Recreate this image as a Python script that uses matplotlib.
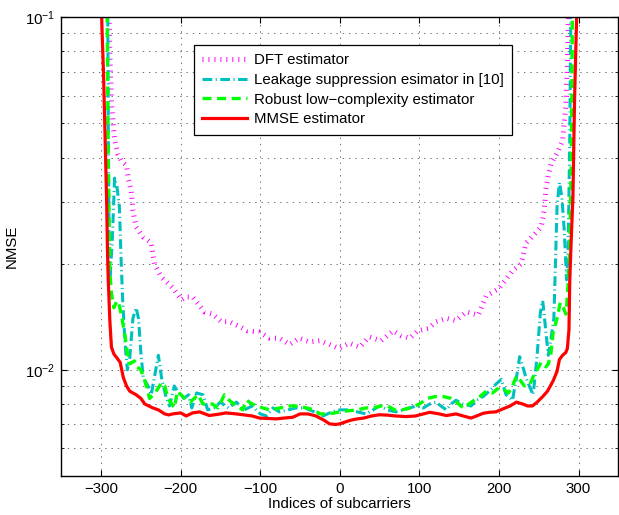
import matplotlib
matplotlib.use('Agg')
import matplotlib.pyplot as plt
from matplotlib.ticker import LogLocator, NullFormatter, MultipleLocator

plt.rcParams['font.family'] = ['Liberation Sans', 'DejaVu Sans']
plt.rcParams['mathtext.default'] = 'regular'
plt.rcParams['lines.scale_dashes'] = False

# DFT estimator
x_dft = [-293, -290, -289, -287, -285, -283, -279, -274, -268, -266,
         -262, -260, -256, -247, -237, -233, -224, -210, -199, -193,
         -185, -170, -160, -149, -139, -124, -116, -101, -88, -76,
         -63, -51, -38, -25, -13, -1, 12, 25, 37, 52,
         67, 77, 88, 98, 111, 121, 134, 146, 159, 174,
         184, 200, 217, 228, 234, 245, 253, 257, 259, 262,
         266, 274, 280, 282, 284, 286, 287, 290]
nmse_dft = [0.16, 0.10, 0.08, 0.058, 0.050, 0.045, 0.041, 0.039, 0.038, 0.035,
            0.032, 0.0284, 0.0254, 0.0238, 0.0229, 0.0200, 0.0183, 0.0171, 0.0158, 0.0161,
            0.0161, 0.0146, 0.0144, 0.0137, 0.0137, 0.0132, 0.0129, 0.0128, 0.0123, 0.0123,
            0.0118, 0.0123, 0.0120, 0.0121, 0.0118, 0.0115, 0.0119, 0.0116, 0.0124, 0.0121,
            0.0129, 0.0125, 0.0123, 0.0129, 0.0131, 0.0137, 0.0140, 0.0138, 0.0146, 0.0143,
            0.0162, 0.0170, 0.0191, 0.0200, 0.0229, 0.0243, 0.0254, 0.0284, 0.0326, 0.0356,
            0.0387, 0.0415, 0.0448, 0.050, 0.056, 0.075, 0.095, 0.16]

# leakage suppression estimator in [10]
x_leak = [-292, -291, -290, -289, -286, -283, -280, -277, -275, -273,
          -270, -267, -264, -260, -256, -253, -250, -247, -241, -237,
          -232, -228, -224, -218, -214, -208, -204, -196, -190, -186,
          -180, -172, -166, -158, -150, -140, -130, -120, -110, -100,
          -92, -84, -76, -65, -55, -44, -32, -21, -10, 0,
          12, 22, 33, 42, 50, 60, 70, 80, 88, 96,
          105, 113, 121, 127, 134, 140, 146, 155, 165, 172,
          180, 188, 196, 203, 209, 217, 222, 226, 230, 234,
          240, 243, 248, 252, 255, 258, 262, 266, 269, 271,
          273, 276, 279, 282, 285, 287, 289, 291]
nmse_leak = [0.16, 0.05, 0.025, 0.018, 0.023, 0.035, 0.033, 0.029, 0.021, 0.016,
             0.012, 0.0100, 0.0108, 0.0140, 0.0150, 0.0140, 0.0112, 0.0095, 0.0090, 0.0085,
             0.0098, 0.0110, 0.0095, 0.0083, 0.0079, 0.0090, 0.0087, 0.0083, 0.0085, 0.0078,
             0.0086, 0.0085, 0.0077, 0.0078, 0.0081, 0.0078, 0.0081, 0.0077, 0.0079, 0.0075,
             0.0074, 0.0078, 0.0076, 0.0077, 0.0078, 0.0078, 0.0076, 0.0074, 0.0076, 0.0077,
             0.0077, 0.0076, 0.0075, 0.0077, 0.0079, 0.0077, 0.0076, 0.0077, 0.0078, 0.0079,
             0.0078, 0.0080, 0.0081, 0.0079, 0.0077, 0.0080, 0.0082, 0.0080, 0.0079, 0.0082,
             0.0084, 0.0087, 0.0091, 0.0094, 0.0085, 0.0082, 0.0095, 0.0109, 0.0102, 0.0095,
             0.0088, 0.0085, 0.0110, 0.0145, 0.0157, 0.0135, 0.0110, 0.0125, 0.0140, 0.0200,
             0.0290, 0.0340, 0.0310, 0.0250, 0.0180, 0.0220, 0.0450, 0.1600]

# robust low-complexity estimator
x_robust = [-293, -291, -289, -287, -284, -280, -277, -274, -270, -267,
            -264, -258, -255, -250, -245, -239, -232, -224, -220, -216,
            -208, -204, -195, -188, -178, -172, -160, -153, -145, -139,
            -130, -122, -117, -110, -97, -88, -75, -63, -55, -42,
            -32, -25, -20, -9, 0, 12, 22, 33, 42, 52,
            60, 69, 78, 88, 100, 110, 120, 130, 140, 147,
            155, 162, 169, 176, 184, 192, 200, 206, 212, 217,
            222, 226, 232, 239, 245, 248, 253, 259, 262, 265,
            268, 273, 277, 281, 284, 285, 287, 289, 291, 293]
nmse_robust = [0.16, 0.040, 0.019, 0.0165, 0.0150, 0.0157, 0.0152, 0.0141, 0.0125, 0.0112,
               0.0104, 0.0106, 0.0102, 0.0100, 0.0093, 0.0083, 0.0086, 0.0092, 0.0090, 0.0083,
               0.0078, 0.0087, 0.0083, 0.0081, 0.0085, 0.0080, 0.0080, 0.0078, 0.0085, 0.0082,
               0.0079, 0.0077, 0.0082, 0.0080, 0.0078, 0.0077, 0.0078, 0.0079, 0.0079, 0.0078,
               0.0077, 0.0075, 0.0075, 0.00753, 0.0076, 0.00766, 0.0077, 0.0078, 0.0078, 0.0079,
               0.0079, 0.0077, 0.0077, 0.0078, 0.0080, 0.0083, 0.0084, 0.0084, 0.0083, 0.0081,
               0.0078, 0.0080, 0.0082, 0.0084, 0.0087, 0.0086, 0.0089, 0.0088, 0.0086, 0.0090,
               0.0096, 0.0094, 0.0090, 0.0091, 0.0098, 0.0100, 0.0105, 0.0102, 0.0104, 0.0110,
               0.0127, 0.0140, 0.0155, 0.0150, 0.0144, 0.0150, 0.0176, 0.022, 0.040, 0.16]

# MMSE estimator
x_mmse = [-300, -299, -297, -295, -293, -292, -291, -289, -287, -284,
          -280, -276, -272, -268, -264, -256, -250, -245, -235, -228,
          -220, -215, -210, -200, -193, -185, -176, -164, -150, -143,
          -130, -122, -110, -101, -90, -80, -70, -59, -50, -40,
          -30, -20, -13, -5, 0, 12, 20, 30, 40, 50,
          60, 70, 83, 95, 113, 125, 134, 146, 155, 165,
          172, 180, 188, 196, 205, 214, 222, 230, 236, 242,
          248, 255, 261, 268, 273, 276, 280, 284, 286, 288,
          289, 291, 293, 295, 297, 299]
nmse_mmse = [0.13, 0.095, 0.070, 0.046, 0.030, 0.022, 0.018, 0.0138, 0.0116, 0.0111,
             0.0108, 0.0105, 0.0095, 0.0090, 0.0087, 0.0085, 0.0083, 0.0080, 0.0078, 0.0077,
             0.0075, 0.00745, 0.0075, 0.00755, 0.0074, 0.00755, 0.0076, 0.00742, 0.0075, 0.00755,
             0.0075, 0.00746, 0.0074, 0.0073, 0.00728, 0.00726, 0.0073, 0.00734, 0.0075, 0.0075,
             0.0074, 0.0072, 0.00703, 0.00700, 0.00703, 0.00718, 0.00725, 0.0073, 0.0074, 0.00746,
             0.00744, 0.0074, 0.00737, 0.0074, 0.00758, 0.0075, 0.00742, 0.0075, 0.0074, 0.0073,
             0.0074, 0.00753, 0.00758, 0.0076, 0.00775, 0.0079, 0.0081, 0.0080, 0.0079, 0.0079,
             0.0081, 0.0084, 0.0087, 0.0093, 0.0099, 0.0107, 0.0110, 0.0112, 0.0115, 0.0130,
             0.0179, 0.024, 0.031, 0.058, 0.088, 0.13]

labels = ['DFT estimator',
          'Leakage suppression esimator in [10]',
          'Robust low\u2212complexity estimator',
          'MMSE estimator']

fig = plt.figure(figsize=(6.19, 5.15), dpi=100)
ax = fig.add_axes([61.3 / 619, 39 / 515, 557 / 619, 458.7 / 515])

ax.semilogy(x_dft, nmse_dft, color='#ff00ff', lw=3.6,
            linestyle=(0, (0.7, 3.6)), label=labels[0])
ax.semilogy(x_leak, nmse_leak, color='#00bfbf', lw=2.2,
            linestyle=(0, (7, 2.5, 0.8, 2.5)), label=labels[1])
ax.semilogy(x_robust, nmse_robust, color='#00ff00', lw=2.4,
            linestyle=(0, (6.5, 4)), label=labels[2])
ax.semilogy(x_mmse, nmse_mmse, color='#ff0000', lw=2.3, label=labels[3])

ax.set_xlim(-350, 350)
ax.set_ylim(0.005, 0.1)
ax.xaxis.set_major_locator(MultipleLocator(100))
ax.yaxis.set_major_locator(LogLocator(base=10))
ax.yaxis.set_minor_locator(LogLocator(base=10, subs=range(2, 10)))
ax.yaxis.set_minor_formatter(NullFormatter())

ax.grid(True, which='major', axis='x', linestyle=(0, (1, 3.5)), color='0.35', lw=0.6)
ax.grid(True, which='both', axis='y', linestyle=(0, (1, 3.5)), color='0.35', lw=0.6)
ax.tick_params(which='both', direction='in', top=True, right=True,
               labelsize=10.8, pad=4)
ax.tick_params(which='major', length=4.5, width=0.8)
ax.tick_params(which='minor', length=2.5, width=0.6)
for s in ax.spines.values():
    s.set_linewidth(1.0)

ax.set_xlabel('Indices of subcarriers', fontsize=10.8, labelpad=1)
ax.set_ylabel('NMSE', fontsize=10.8)
ax.yaxis.set_label_coords(-0.076, 0.5)

leg = ax.legend(loc='upper left', bbox_to_anchor=(0.238, 0.9396),
                borderaxespad=0, fontsize=10.8, handlelength=3.0,
                handletextpad=0.45, borderpad=0.55, labelspacing=0.38,
                fancybox=False, framealpha=1)
leg.get_frame().set_edgecolor('black')
leg.get_frame().set_linewidth(0.9)

fig.savefig('out.png', dpi=100)
